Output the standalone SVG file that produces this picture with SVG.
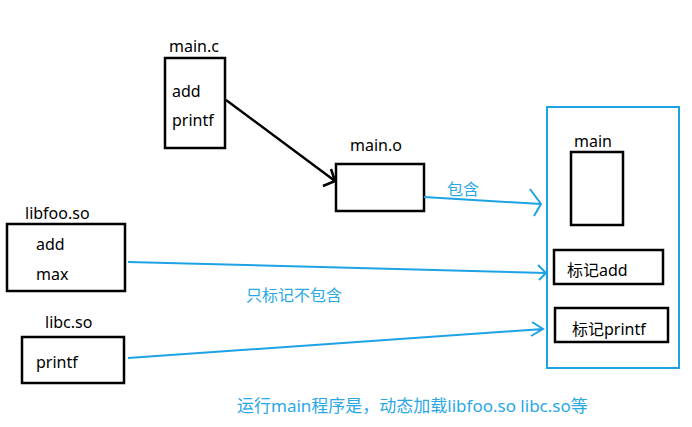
<svg xmlns="http://www.w3.org/2000/svg" width="692" height="427" viewBox="0 0 692 427">
<style>
text{font-family:"Noto Sans","Noto Sans CJK SC",sans-serif;font-size:16px;fill:#000}
.b text,text.b{fill:#2aa8e6}
.box{fill:#fff;stroke:#000;stroke-width:2.5}
.blk{fill:none;stroke:#000;stroke-width:2.5}
.blu{fill:none;stroke:#1ea2e6;stroke-width:2}
</style>
<rect width="692" height="427" fill="#fff"/>
<g id="main_c">
<text x="169" y="52">main.c</text>
<rect class="box" x="165" y="58" width="60" height="90"/>
<text x="172" y="97">add</text>
<text x="172" y="126">printf</text>
</g>
<g id="main_o">
<text x="350" y="151">main.o</text>
<rect class="box" x="336" y="164" width="88" height="47"/>
</g>
<g id="libfoo">
<text x="25" y="219">libfoo.so</text>
<rect class="box" x="7" y="224" width="118" height="67"/>
<text x="36" y="250">add</text>
<text x="36" y="280">max</text>
</g>
<g id="libc">
<text x="45" y="328">libc.so</text>
<rect class="box" x="22" y="337" width="102" height="46"/>
<text x="36" y="368">printf</text>
</g>
<g id="exe">
<rect x="547" y="107" width="132" height="261" fill="none" stroke="#1ea2e6" stroke-width="2"/>
<text x="574" y="147">main</text>
<rect class="box" x="571" y="152" width="52" height="73"/>
<rect class="box" x="554" y="250" width="109" height="34"/>
<text x="567" y="276">标记add</text>
<rect class="box" x="555" y="308" width="113" height="34"/>
<text x="572" y="335">标记printf</text>
</g>
<g id="connectors">
<path class="blk" d="M226 100 L335 181 M323 186 L335 181 M331 169 L335 181"/>
<path class="blu" d="M424 197 L541 204 M530 189 L541 204 L534 216"/>
<path class="blu" d="M128 262 L546 273 M538 265 L546 273 L539 280"/>
<path class="blu" d="M128 358 L543 329 M532 322 L543 329 L531 336"/>
</g>
<g class="b">
<text x="447" y="195">包含</text>
<text x="246" y="301">只标记不包含</text>
<text x="237" y="412" style="font-size:17px">运行main程序是，动态加载libfoo.so libc.so等</text>
</g>
</svg>
